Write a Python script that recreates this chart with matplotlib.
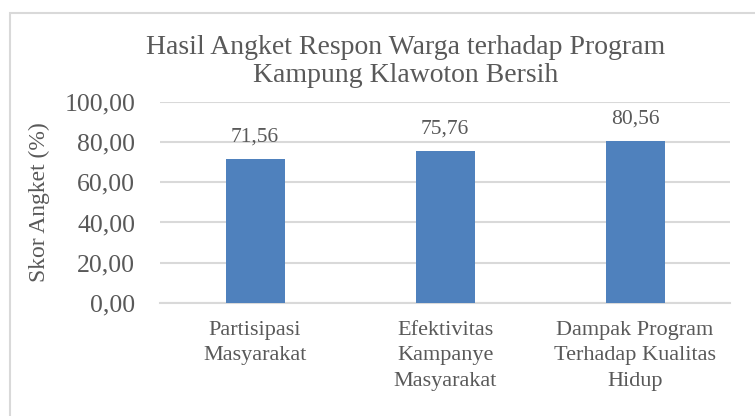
# Hasil angket respon warga - diagram batang.

import matplotlib.pyplot as plt
from matplotlib.patches import Rectangle

categories = ['Partisipasi\nMasyarakat', 'Efektivitas\nKampanye\nMasyarakat',
              'Dampak Program\nTerhadap Kualitas\nHidup']
scores = [71.56, 75.76, 80.56]
yticks = [0, 20, 40, 60, 80, 100]

text_color = '#595959'
grid_color = '#D9D9D9'
bar_color = '#4F81BD'

def fmt(v: float) -> str:
    return f'{v:.2f}'.replace('.', ',')

def main() -> None:
    plt.rcParams['font.family'] = ['Liberation Serif', 'DejaVu Serif']
    fig = plt.figure(figsize=(7.55, 4.16), dpi=100)
    ax = fig.add_axes([0.212, 0.272, 0.755, 0.483])

    x = range(len(categories))
    bars = ax.bar(x, scores, width=0.31, color=bar_color, zorder=3)
    for b, v in zip(bars, scores):
        ax.text(b.get_x() + b.get_width() / 2, v + 6, fmt(v), ha='center', va='bottom',
                fontsize=15.5, color=text_color)

    ax.set_ylim(0, 100)
    ax.set_xlim(-0.5, len(categories) - 0.5)
    ax.set_yticks(yticks)
    ax.set_yticklabels([fmt(t) for t in yticks], fontsize=18.5, color=text_color)
    ax.set_xticks(list(x))
    ax.set_xticklabels(categories, fontsize=16, color=text_color, linespacing=1.45)
    ax.tick_params(axis='both', length=0)
    ax.tick_params(axis='x', pad=13)
    ax.tick_params(axis='y', pad=18)
    ax.grid(axis='y', color=grid_color, linewidth=1.5, zorder=0)
    for s in ['top', 'right', 'left']:
        ax.spines[s].set_visible(False)
    ax.spines['bottom'].set_color(grid_color)
    ax.spines['bottom'].set_linewidth(1.5)

    ax.set_ylabel('Skor Angket (%)', fontsize=17, color=text_color)
    ax.yaxis.set_label_coords(-0.193, 0.5)
    fig.text(0.537, 0.852, 'Hasil Angket Respon Warga terhadap Program\nKampung Klawoton Bersih',
             ha='center', va='center', fontsize=20, color=text_color, linespacing=1.2)

    fig.patches.append(Rectangle((10 / 755, -0.1), 1.2, 1.1 - 13 / 416, transform=fig.transFigure,
                                 fill=False, edgecolor=grid_color, linewidth=1.5))

    fig.savefig('out.png', dpi=100)

if __name__ == '__main__':
    main()
